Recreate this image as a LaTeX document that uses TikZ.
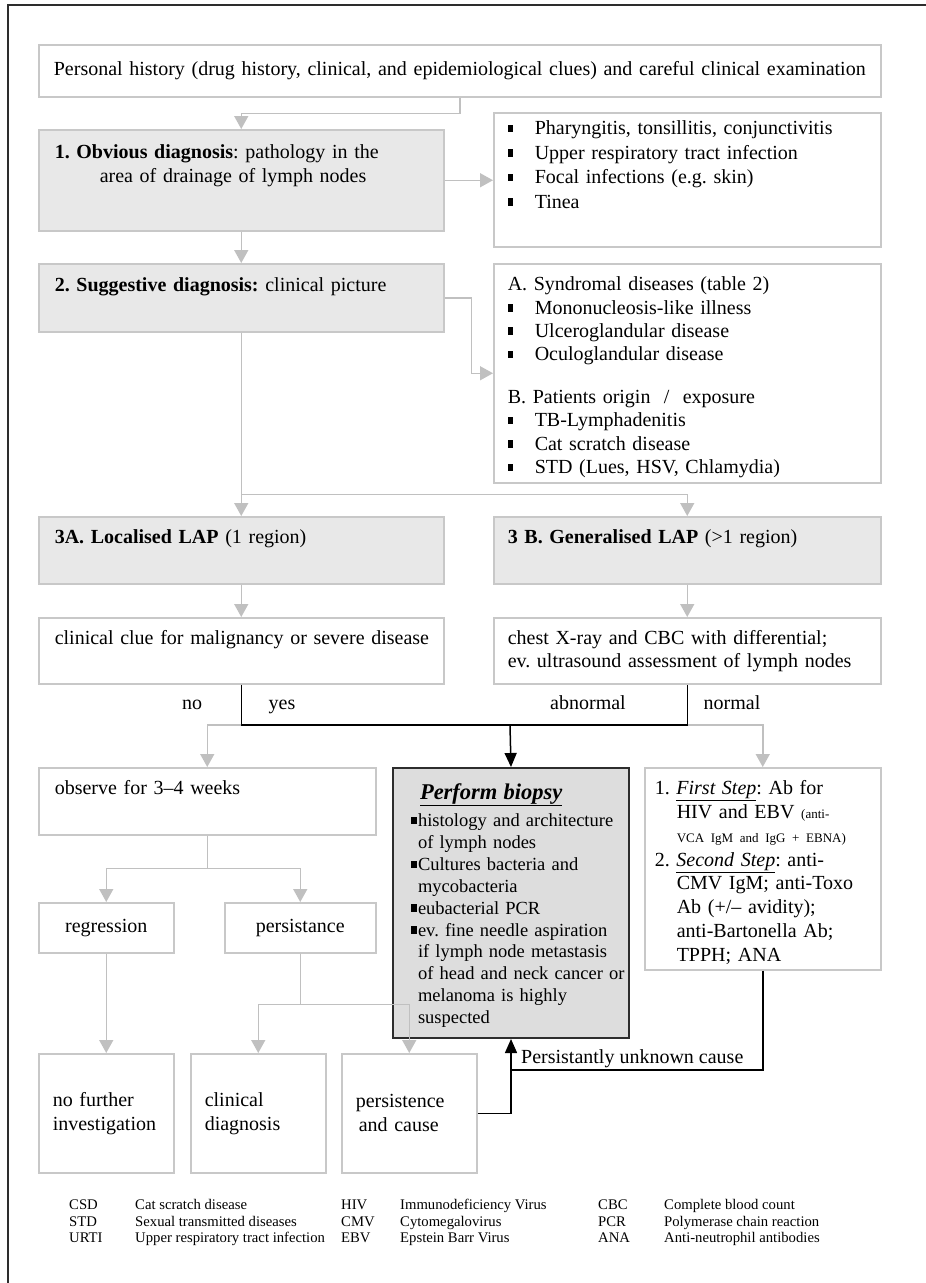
\documentclass[tikz,border=0pt]{standalone}
\usepackage{fontspec}
\setmainfont{Liberation Serif}
\usetikzlibrary{arrows.meta}
\frenchspacing
\definecolor{boxline}{RGB}{200,200,200}
\definecolor{boxfill}{RGB}{232,232,232}
\definecolor{biopfill}{RGB}{221,221,221}
\definecolor{lightarrow}{RGB}{192,192,192}
\definecolor{frameline}{RGB}{45,45,45}
\newcommand{\sqbul}[1][27pt]{\makebox[#1][l]{\rule[2.5pt]{5.5pt}{7.5pt}}}
\newcommand{\padtext}[2]{\leftskip=#1\relax\rightskip=-40pt plus 1fil\relax #2\par}

\begin{document}
\begin{tikzpicture}[x=1pt,y=1pt,
  box/.style={draw=boxline,line width=1.5pt,anchor=north west,inner sep=0pt,align=left,font=\fontsize{20}{24}\selectfont},
  graybox/.style={box,fill=boxfill},
  garrow/.style={draw=lightarrow,line width=1.5pt,-{Triangle[width=14pt,length=13pt]}},
  barrow/.style={draw=black,line width=1.5pt,-{Triangle[width=12pt,length=14pt]}},
  bline/.style={draw=black,line width=1.5pt},
  lbl/.style={font=\fontsize{20}{24}\selectfont,inner sep=0pt,anchor=base},
  abbr/.style={font=\fontsize{14.7}{17}\selectfont,inner sep=0pt,anchor=base west}]
  \useasboundingbox (0,0) rectangle (926,-1283);
  \draw[frameline,line width=2pt] (8,-1283) -- (8,-5) -- (926,-5);

  % history
  \node[box,at={(38,-44)},text width=842pt,align=center,text height=31pt,text depth=21pt] (hist) {Personal history (drug history, clinical, and epidemiological clues) and careful clinical examination};

  % obvious
  \node[graybox,at={(38,-129)},text width=405pt,text height=29pt,text depth=72pt] (obv) {\padtext{16pt}{\textbf{1. Obvious diagnosis}: pathology in the\\\hspace*{45pt}area of drainage of lymph nodes}};
  \node[box,at={(493,-112)},text width=387pt,text height=22pt,text depth=112pt,font=\fontsize{20}{24.5}\selectfont] (infect) {\padtext{14pt}{\sqbul Pharyngitis, tonsillitis, conjunctivitis\\\sqbul Upper respiratory tract infection\\\sqbul Focal infections (e.g. skin)\\\sqbul Tinea}};

  % suggestive
  \node[graybox,at={(38,-263)},text width=405pt,text height=28pt,text depth=40pt] (sugg) {\padtext{16pt}{\textbf{2. Suggestive diagnosis:} clinical picture}};
  \node[box,at={(493,-263)},text width=387pt,text height=27pt,text depth=192pt,font=\fontsize{20}{23.3}\selectfont] (synd) {\padtext{14pt}{A. Syndromal diseases (table 2)\\\sqbul Mononucleosis-like illness\\\sqbul Ulceroglandular disease\\\sqbul Oculoglandular disease\\[19.7pt]B. Patients origin\ \ /\ \ exposure\\\sqbul TB-Lymphadenitis\\\sqbul Cat scratch disease\\\sqbul STD (Lues, HSV, Chlamydia)}};

  % localised / generalised
  \node[graybox,at={(38,-516)},text width=405pt,text height=27pt,text depth=40pt] (loc) {\padtext{16pt}{\textbf{3A. Localised LAP} (1 region)}};
  \node[graybox,at={(493,-516)},text width=387pt,text height=27pt,text depth=40pt] (gen) {\padtext{14pt}{\textbf{3 B. Generalised LAP} (>1 region)}};
  \node[box,at={(38,-617)},text width=405pt,text height=27pt,text depth=39pt] (clue) {\padtext{16pt}{clinical clue for malignancy or severe disease}};
  \node[box,at={(493,-617)},text width=387pt,text height=27pt,text depth=39pt,font=\fontsize{20}{23}\selectfont] (chest) {\padtext{14pt}{chest X-ray and CBC with differential;\\ev. ultrasound assessment of lymph nodes}};
  %labels
  \node[lbl] (no) at (192,-709) {no};
  \node[lbl] (yes) at (282,-709) {yes};
  \node[lbl] (abn) at (588,-709) {abnormal};
  \node[lbl] (norm) at (732,-709) {normal};

  % work-up
  \node[box,at={(38,-767)},text width=337pt,text height=27pt,text depth=40pt] (observe) {\padtext{16pt}{observe for 3--4 weeks}};
  \node[box,draw=frameline,line width=2pt,fill=biopfill,at={(392,-767)},text width=236pt,text height=31pt,text depth=239pt,font=\fontsize{18.5}{21.85}\selectfont] (biopsy) {\padtext{18pt}{\hspace*{9pt}{\fontsize{22.5}{27}\selectfont\underline{\textbf{\textit{Perform biopsy}}}}\\[6pt]
    \sqbul[7pt]histology and architecture\\\hspace*{7pt}of lymph nodes\\
    \sqbul[7pt]Cultures bacteria and\\\hspace*{7pt}mycobacteria\\
    \sqbul[7pt]eubacterial PCR\\
    \sqbul[7pt]ev. fine needle aspiration\\\hspace*{7pt}if lymph node metastasis\\\hspace*{7pt}of head and neck cancer or\\\hspace*{7pt}melanoma is highly\\\hspace*{7pt}suspected}};
  \node[box,at={(644,-767)},text width=236pt,text height=27pt,text depth=175pt,font=\fontsize{20}{23.8}\selectfont] (tests) {\padtext{10pt}{1. \underline{\textit{First Step}}: Ab for\\
    \hspace*{22pt}HIV and EBV {\fontsize{13}{14}\selectfont(anti-}\\
    \hspace*{22pt}{\fontsize{13}{14}\selectfont VCA IgM and IgG + EBNA)}\\
    2. \underline{\textit{Second Step}}: anti-\\
    \hspace*{22pt}CMV IgM; anti-Toxo\\
    \hspace*{22pt}Ab (+/-- avidity);\\
    \hspace*{22pt}anti-Bartonella Ab;\\
    \hspace*{22pt}TPPH; ANA}};

  % follow-up
  \node[box,at={(38,-902)},minimum width=135pt,minimum height=50pt,align=center] (regr) {regression};
  \node[box,at={(224,-902)},minimum width=151pt,minimum height=50pt,align=center] (pers) {persistance};
  \node[box,at={(38,-1053)},text width=135pt,minimum height=119pt] (nofurther) {\padtext{14pt}{no further\\investigation}};
  \node[box,at={(190,-1053)},text width=135pt,minimum height=119pt] (clin) {\padtext{14pt}{clinical\\diagnosis}};
  \node[box,at={(341,-1053)},text width=135pt,minimum height=119pt] (cause) {\padtext{14pt}{persistence\\\hspace*{3pt}and cause}};
  \node[lbl,anchor=base west] (unknown) at (521,-1063) {Persistantly unknown cause};

  %arrows
  \coordinate (fork) at (510,-725);
  \coordinate (unk) at (510,-1070);
  \draw[garrow] (hist.south) -- ++(0,-16) -| (obv.north);
  \draw[garrow] (obv.east) -- (obv.east -| infect.west);
  \draw[garrow] (obv.south) -- (sugg.north);
  \draw[garrow] (sugg.east) -- ++(27,0) |- (synd.west);
  \draw[garrow] (sugg.south) -- (loc.north);
  \draw[garrow] (sugg.south) -- ++(0,-162) -| (gen.north);
  \draw[garrow] (loc.south) -- (clue.north);
  \draw[garrow] (gen.south) -- (chest.north);
  \draw[garrow] (fork -| clue.south) -| (observe.north);
  \draw[garrow] (fork -| chest.south) -| (tests.north);
  \draw[bline] (clue.south) |- (fork) -| (chest.south);
  \draw[barrow] (fork) -- (biopsy.north);
  \draw[garrow] (observe.south) -- ++(0,-33) -| (regr.north);
  \draw[garrow] (observe.south) -- ++(0,-33) -| (pers.north);
  \draw[garrow] (regr.south) -- (nofurther.north);
  \draw[garrow] (pers.south) -- ++(0,-51) -| (clin.north);
  \draw[garrow] (pers.south) -- ++(0,-51) -| (cause.north);
  \draw[barrow] (cause.east) -| (biopsy.south);
  \draw[bline] (tests.south) |- (unk);

  % abbreviations
  \node[abbr] (csd) at (69,-1209) {CSD};
  \node[abbr] (csdtxt) at (135,-1209) {Cat scratch disease};
  \node[abbr] (std) at (69,-1226) {STD};
  \node[abbr] (stdtxt) at (135,-1226) {Sexual transmitted diseases};
  \node[abbr] (urti) at (69,-1242) {URTI};
  \node[abbr] (urtitxt) at (135,-1242) {Upper respiratory tract infection};
  \node[abbr] (hiv) at (341,-1209) {HIV};
  \node[abbr] (hivtxt) at (400,-1209) {Immunodeficiency Virus};
  \node[abbr] (cmv) at (341,-1226) {CMV};
  \node[abbr] (cmvtxt) at (400,-1226) {Cytomegalovirus};
  \node[abbr] (ebv) at (341,-1242) {EBV};
  \node[abbr] (ebvtxt) at (400,-1242) {Epstein Barr Virus};
  \node[abbr] (cbc) at (598,-1209) {CBC};
  \node[abbr] (cbctxt) at (664,-1209) {Complete blood count};
  \node[abbr] (pcr) at (598,-1226) {PCR};
  \node[abbr] (pcrtxt) at (664,-1226) {Polymerase chain reaction};
  \node[abbr] (ana) at (598,-1242) {ANA};
  \node[abbr] (anatxt) at (664,-1242) {Anti-neutrophil antibodies};
\end{tikzpicture}
\end{document}
